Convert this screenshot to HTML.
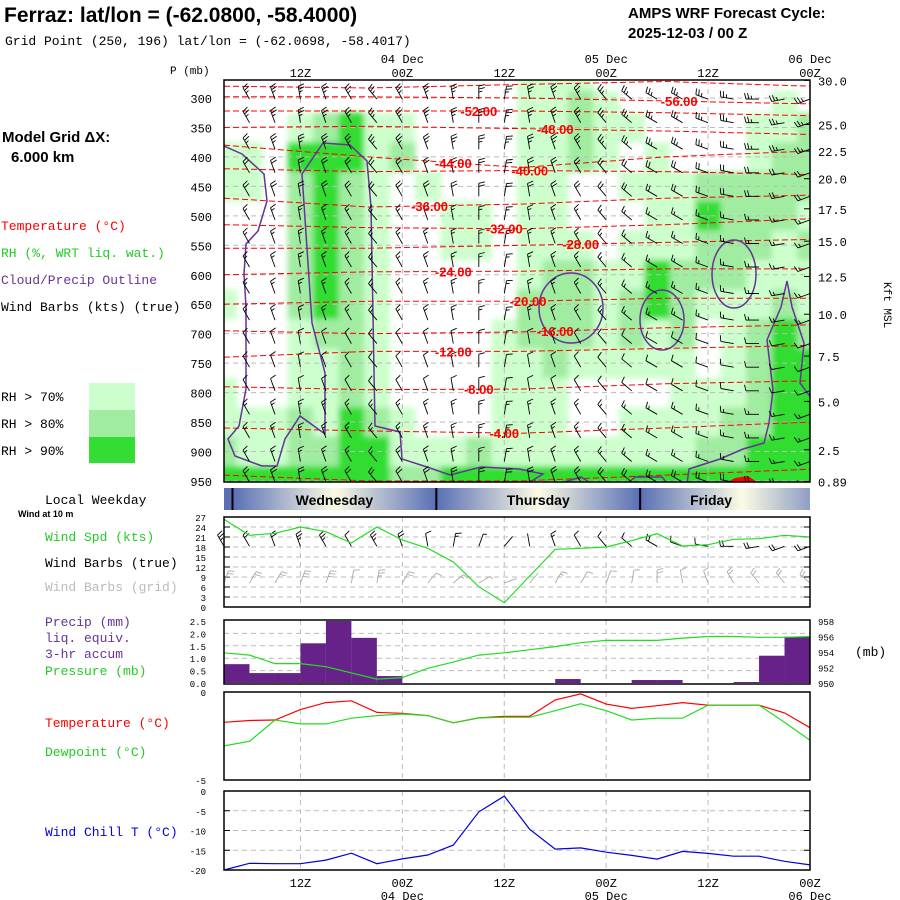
<!DOCTYPE html>
<html><head><meta charset="utf-8"><style>
body{margin:0;background:#fff;}
svg{display:block;}
text{font-family:"Liberation Mono","DejaVu Sans Mono",monospace;}
.ttl{font-family:"Liberation Sans",sans-serif;font-weight:bold;}
.sans{font-family:"Liberation Sans",sans-serif;font-weight:bold;}
</style></head><body>
<svg id="chart" width="900" height="900" viewBox="0 0 900 900" xmlns="http://www.w3.org/2000/svg">
<text class="ttl" x="4" y="22" font-size="21">Ferraz:  lat/lon = (-62.0800, -58.4000)</text>
<text x="5" y="45" font-size="13">Grid Point (250, 196) lat/lon = (-62.0698, -58.4017)</text>
<text class="ttl" x="628" y="18" font-size="15">AMPS WRF Forecast Cycle:</text>
<text class="ttl" x="628" y="38" font-size="15">2025-12-03 / 00  Z</text>
<text x="170" y="74" font-size="11">P (mb)</text>
<text class="ttl" x="2" y="142" font-size="15">Model Grid ΔX:</text>
<text class="ttl" x="11" y="162" font-size="15">6.000 km</text>
<text x="1" y="230" font-size="13" fill="#ff0000">Temperature (°C)</text>
<text x="1" y="257" font-size="13" fill="#22cc22">RH (%, WRT liq. wat.)</text>
<text x="1" y="284" font-size="13" fill="#663399">Cloud/Precip Outline</text>
<text x="1" y="311" font-size="13">Wind Barbs (kts) (true)</text>
<text x="1" y="401" font-size="13">RH &gt; 70%</text>
<text x="1" y="428" font-size="13">RH &gt; 80%</text>
<text x="1" y="455" font-size="13">RH &gt; 90%</text>
<rect x="89" y="383" width="46" height="27" fill="#ccffcc"/>
<rect x="89" y="410" width="46" height="27" fill="#a0eca0"/>
<rect x="89" y="437" width="46" height="26" fill="#33dd33"/>
<text transform="translate(884,282) rotate(90)" font-size="11">Kft MSL</text>
<text x="45" y="504" font-size="13">Local Weekday</text>
<text class="ttl" x="18" y="517" font-size="9">Wind at 10 m</text>
<text x="45" y="541" font-size="13" fill="#22cc22">Wind Spd (kts)</text>
<text x="45" y="567" font-size="13">Wind Barbs (true)</text>
<text x="45" y="591" font-size="13" fill="#bbbbbb">Wind Barbs (grid)</text>
<text x="45" y="626" font-size="13" fill="#663399">Precip (mm)</text>
<text x="45" y="642" font-size="13" fill="#663399">liq. equiv.</text>
<text x="45" y="658" font-size="13" fill="#663399">3-hr accum</text>
<text x="45" y="675" font-size="13" fill="#22cc22">Pressure (mb)</text>
<text x="855" y="656" font-size="13">(mb)</text>
<text x="45" y="727" font-size="13" fill="#ff0000">Temperature (°C)</text>
<text x="45" y="756" font-size="13" fill="#22cc22">Dewpoint (°C)</text>
<text x="45" y="836" font-size="13" fill="#0000ee">Wind Chill T (°C)</text>
<g id="g"></g>
</svg>
<script>
// ---------- data ----------
const times = [3,6,9,12,15,18,21,24,27,30,33,36,39,42,45,48,51,54,57,60,63,66,69,72];
const rhLevels = [275,300,350,400,450,500,550,600,650,700,750,800,850,900,950];
const rhRows = [
"000000000000111000000000",
"000000000000112100000010",
"000123110000112110000112",
"110333120000112101000122",
"110232101000110011122222",
"000232100110110001132221",
"000232100110111011122212",
"000232100000122113222111",
"100232100000222123211121",
"000122100001222121201232",
"000112100001121111101233",
"100112100001110000111233",
"111213210001110011112233",
"211223311121111111122333",
"333333322333333333333333"];
const isoVals = [-60,-56,-52,-48,-44,-40,-36,-32,-28,-24,-20,-16,-12,-8,-4,0];
const isoTimes = [3,20,38,55,72];
const isoP = [
[280,283,277,272,280],[298,298,300,305,310],[322,322,322,325,330],[350,348,352,356,362],
[380,400,418,400,390],[420,425,423,425,430],[470,485,480,470,465],[515,520,522,515,505],
[555,555,550,545,540],[600,595,594,590,590],[650,645,645,640,640],[695,700,697,690,685],
[740,730,730,725,720],[790,795,794,785,780],[860,865,869,860,850],[940,950,950,940,930]];
const isoLabelVals = [-56,-52,-48,-44,-40,-36,-32,-28,-24,-20,-16,-12,-8,-4];
const isoLabelTimes = [56.6,33,42,30,39,27.2,36,45,30,38.8,42,30,33,36];
const barbLevels = [290,330,375,415,455,495,535,575,620,665,705,745,785,825,865,905,940];
const barbDir = [330,330,340,350,340,330,320,330,340,350,0,10,350,340,330,320,310,300,300,290,280,270,260,250];
const barbSpdRow = [25,25,25,20,20,15,15,15,15,15,10,10,10,15,15,15,20];
const windSpd = [26.3,21.5,22.1,24,22.6,19.2,24,20.1,17.6,13.5,6.1,1.3,9.3,17.3,17.6,18,19.9,22,18.3,18.7,20.3,20.5,21.5,21];
const windDir10 = [330,330,340,340,330,330,330,340,350,10,20,40,350,340,330,320,310,300,290,280,270,260,250,250];
const gridDir10 = [20,30,30,20,20,10,10,30,40,50,60,70,40,30,30,20,10,0,350,340,330,320,320,310];
const precip = [0.76,0.4,0.4,1.6,2.5,1.82,0.28,0,0,0,0,0,0,0.16,0,0,0.12,0.12,0,0,0.04,1.1,1.87];
const pres = [953.9,953.6,952.5,952.5,952.1,951.3,950.5,950.7,951.9,952.7,953.6,953.9,954.3,954.7,955.2,955.5,955.5,955.5,955.8,956,956,955.9,955.9,956];
const temp = [-1.72,-1.62,-1.59,-1.0,-0.6,-0.5,-1.16,-1.21,-1.34,-1.75,-1.47,-1.38,-1.38,-0.45,-0.11,-0.69,-0.93,-0.78,-0.6,-0.75,-0.75,-0.75,-1.19,-2.03];
const dewp = [-3.06,-2.8,-1.59,-1.81,-1.81,-1.49,-1.34,-1.25,-1.34,-1.75,-1.47,-1.44,-1.44,-1.06,-0.67,-1.06,-1.59,-1.49,-1.49,-0.75,-0.75,-0.75,-1.72,-2.74];
const windChill = [-20,-18.3,-18.4,-18.4,-17.5,-15.75,-18.4,-17.2,-16.2,-13.7,-5.3,-1.3,-9.7,-14.7,-14.4,-15.5,-16.3,-17.25,-15.3,-15.8,-16.5,-16.5,-17.8,-18.7];
const pTicks = [300,350,400,450,500,550,600,650,700,750,800,850,900,950];
const kftTicks = ["30.0","25.0","22.5","20.0","17.5","15.0","12.5","10.0","7.5","5.0","2.5","0.89"];
const kftTickP = [270,345,390,437,488,543,603,667,738,815,897,951];
const timeTicks = [12,24,36,48,60,72];
const timeTickLabels = ["12Z","00Z","12Z","00Z","12Z","00Z"];
const dateTickLabels = ["","04 Dec","","05 Dec","","06 Dec"];
const dayBounds = [4,28,52,76];
const dayNames = ["Wednesday","Thursday","Friday"];

// ---------- scales ----------
const L=224,R=810;
const X=t=>L+(t-3)*(R-L)/69;
const P=p=>98+(p-300)*0.5892;
const NS='http://www.w3.org/2000/svg';
const root=document.getElementById('g');
function mk(tag,attrs,parent){const e=document.createElementNS(NS,tag);for(const k in attrs)e.setAttribute(k,attrs[k]);(parent||root).appendChild(e);return e;}
function txt(s,x,y,attrs,parent){const e=mk('text',Object.assign({x:x,y:y},attrs),parent);e.textContent=s;return e;}
function interp(xs,ys,x){for(let i=0;i<xs.length-1;i++){if(x<=xs[i+1]){const f=(x-xs[i])/(xs[i+1]-xs[i]);return ys[i]+f*(ys[i+1]-ys[i]);}}return ys[ys.length-1];}

// ---------- main panel ----------
const defs=mk('defs',{});
const cp=mk('clipPath',{id:'mainclip'},defs);
mk('rect',{x:L,y:80,width:R-L,height:402},cp);
const flt=mk('filter',{id:'soft',x:'-5%',y:'-5%',width:'110%',height:'110%'},defs);
mk('feGaussianBlur',{stdDeviation:'3'},flt);
const main=mk('g',{'clip-path':'url(#mainclip)'});


const rhG=mk('g',{filter:'url(#soft)'},main);
const rhCol=['none','#ccffcc','#a0eca0','#33dd33'];
const cw=(X(6)-X(3));
rhLevels.forEach((p,ri)=>{
  const vals=rhRows[ri].split('').map(Number);
  const yTop = ri===0?70:(P(rhLevels[ri-1])+P(p))/2;
  const yBot = ri===rhLevels.length-1?492:(P(p)+P(rhLevels[ri+1]))/2;
  vals.forEach((v,ci)=>{
    if(!v)return;
    const x0=ci===0?L-10:X(times[ci])-cw/2;
    const x1=ci===times.length-1?R+10:X(times[ci])+cw/2;
    const r=mk('rect',{x:x0,y:yTop,width:x1-x0+0.5,height:yBot-yTop+0.5,fill:rhCol[v]},rhG);
    
    
  });
});
pTicks.forEach(p=>{mk('line',{x1:L,x2:R,y1:P(p),y2:P(p),stroke:'#bbbbbb','stroke-dasharray':'5,4','stroke-width':1},main);});
timeTicks.slice(0,5).forEach(t=>{mk('line',{x1:X(t),x2:X(t),y1:80,y2:482,stroke:'#bbbbbb','stroke-dasharray':'5,4'},main);});
isoVals.forEach((v,i)=>{
  let d='';
  for(let t=3;t<=72;t+=1){d+=(t===3?'M':'L')+X(t).toFixed(1)+','+P(interp(isoTimes,isoP[i],t)).toFixed(1);}
  const pl=mk('path',{d:d,fill:'none',stroke:'#ff0000','stroke-width':1,'stroke-dasharray':'6,3'},main);
  
  
});
const outlines=[
"M224,146 L242,154 L264,174 L267,201 L258,231 L246,244 L244,274 L246,307 L246,389 L239,426 L228,439 L235,456 L262,466 L277,466 L285,439 L300,416 L325,434 L325,373 L312,323 L302,174 L323,143 L350,145 L367,161 L371,207 L375,426 L400,432 L402,459 L427,467 L450,475 L481,467 L519,469 L543,474 L527,484",
"M558,484 L581,477 L592,484",
"M627,484 L635,477 L662,477 L668,484",
"M687,484 L689,469 L720,459 L743,449 L764,443 L769,423 L773,390 L767,340 L781,307 L787,281 L792,307 L804,343 L800,383 L812,399"];
outlines.forEach(d=>{const o=mk('path',{d:d,fill:'none',stroke:'#663399','stroke-width':1.5},main);
  });
[[571,308,32,35],[662,320,22,30],[734,274,22,34]].forEach(c=>{const o=mk('ellipse',{cx:c[0],cy:c[1],rx:c[2],ry:c[3],fill:'none',stroke:'#663399','stroke-width':1.5},main);
  });
mk('path',{d:'M724,484 L735,478 L748,476 L760,484 Z',fill:'#ff0000'},main);
function barb(x,y,dir,spd,color,len,parent){
  const a=(dir)*Math.PI/180;
  const dx=Math.sin(a),dy=-Math.cos(a);
  const x2=x+dx*len,y2=y+dy*len;
  let d='M'+x.toFixed(1)+','+y.toFixed(1)+'L'+x2.toFixed(1)+','+y2.toFixed(1);
  const px=-dy,py=dx;
  let n=Math.floor(spd/10),half=(Math.round(spd/5)%2===1);
  let pos=0;
  for(let i=0;i<n;i++){const bx=x2-dx*pos,by=y2-dy*pos;d+='M'+bx.toFixed(1)+','+by.toFixed(1)+'L'+(bx+px*6+dx*1.5).toFixed(1)+','+(by+py*6+dy*1.5).toFixed(1);pos+=3;}
  if(half){const bx=x2-dx*pos,by=y2-dy*pos;d+='M'+bx.toFixed(1)+','+by.toFixed(1)+'L'+(bx+px*3.5+dx*1).toFixed(1)+','+(by+py*3.5+dy*1).toFixed(1);}
  const b=mk('path',{d:d,fill:'none',stroke:color,'stroke-width':0.9},parent);
  
  
}
barbLevels.forEach((p,ri)=>{times.forEach((t,ci)=>{barb(X(t),P(p)+7,barbDir[ci],barbSpdRow[ri],'#000',13,main);});});
isoLabelVals.forEach((v,i)=>{
  const k=isoVals.indexOf(v);const t=isoLabelTimes[i];
  const lb=txt(v.toFixed(2),X(t),P(interp(isoTimes,isoP[k],t))+5,{'font-size':13,fill:'#ff0000','text-anchor':'middle','class':'sans'},main);
  
  
});
mk('rect',{x:L,y:80,width:R-L,height:402,fill:'none',stroke:'#000','stroke-width':1.5});
pTicks.forEach(p=>{const e=txt(String(p),212,P(p)+5,{'font-size':12,'text-anchor':'end'});
  });
kftTicks.forEach((s,i)=>{const e=txt(s,818,P(kftTickP[i])+5,{'font-size':12});
  
  mk('line',{x1:R,x2:R-6,y1:P(kftTickP[i]),y2:P(kftTickP[i]),stroke:'#000'});});
timeTicks.forEach((t,i)=>{
  const e=txt(timeTickLabels[i],X(t),77,{'font-size':12,'text-anchor':'middle'});
  
  if(dateTickLabels[i]){const d=txt(dateTickLabels[i],X(t),63,{'font-size':12,'text-anchor':'middle'});
    }
  const b=txt(timeTickLabels[i],X(t),887,{'font-size':12,'text-anchor':'middle'});
  
  if(dateTickLabels[i]){const d=txt(dateTickLabels[i],X(t),900,{'font-size':12,'text-anchor':'middle'});
    }
});

// ---------- weekday bar ----------
mk('rect',{x:L,y:488,width:R-L,height:22,fill:'#5a6fb5'});
dayBounds.slice(0,3).forEach((t0,i)=>{
  const t1=dayBounds[i+1];
  const gid='dg'+i;
  const lg=mk('linearGradient',{id:gid,x1:X(t0),x2:X(t1),y1:0,y2:0,gradientUnits:'userSpaceOnUse'},defs);
  mk('stop',{offset:'0',  'stop-color':'#5a6fb5'},lg);
  mk('stop',{offset:'0.5','stop-color':'#fbfbe4'},lg);
  mk('stop',{offset:'1',  'stop-color':'#5a6fb5'},lg);
  const x0=X(t0),x1=Math.min(X(t1),R);
  const r=mk('rect',{x:x0,y:488,width:x1-x0,height:22,fill:'url(#'+gid+')'});
  
  mk('line',{x1:x0,x2:x0,y1:488,y2:510,stroke:'#000','stroke-width':2});
  const tx=txt(dayNames[i],(x0+Math.min(X(t1),R))/2+ (i===2?-14:0),505,{'font-size':14,'text-anchor':'middle','class':'sans'});
  
});

// ---------- lower panels ----------
function panel(name,y0,y1){
  const g=mk('g',{});
  timeTicks.slice(0,5).forEach(t=>mk('line',{x1:X(t),x2:X(t),y1:y0,y2:y1,stroke:'#bbbbbb','stroke-dasharray':'5,4'},g));
  return g;
}
function hgrid(g,y){mk('line',{x1:L,x2:R,y1:y,y2:y,stroke:'#bbbbbb','stroke-dasharray':'5,4'},g);}
function line(g,vals,ys,color,name){
  const d=vals.map((v,i)=>(i?'L':'M')+X(times[i]).toFixed(1)+','+ys(v).toFixed(1)).join('');
  const p=mk('path',{d:d,fill:'none',stroke:color,'stroke-width':1.2},g);
  
}
function border(y0,y1){mk('rect',{x:L,y:y0,width:R-L,height:y1-y0,fill:'none',stroke:'#000','stroke-width':1.5});}
const W=v=>607-v*90/27;
const gw=panel('wind-speed-panel',517,607);
for(let v=3;v<27;v+=3){hgrid(gw,W(v));mk('line',{x1:L,x2:L+6,y1:W(v),y2:W(v),stroke:'#000'},gw);mk('line',{x1:R,x2:R-6,y1:W(v),y2:W(v),stroke:'#000'},gw);}
for(let v=0;v<=27;v+=3){const e=txt(String(v),206,W(v)+4,{'font-size':9,'text-anchor':'end'},gw);}
times.forEach((t,i)=>barb(X(t),W(9)+6,gridDir10[i],windSpd[i],'#aaaaaa',13,gw));
times.forEach((t,i)=>barb(X(t),W(20)+6,windDir10[i],windSpd[i],'#000',13,gw));
line(gw,windSpd,W,'#22dd22','wind-speed-line');
border(517,607);
const PR=v=>683-v*62/2.5, PS=v=>683-(v-950)*62/8;
const gp=panel('precip-pressure-panel',620,684);
[0.5,1,1.5,2].forEach(v=>hgrid(gp,PR(v)));
precip.forEach((v,i)=>{if(!v)return;const b=mk('rect',{x:X(times[i]),y:PR(v),width:X(times[i+1])-X(times[i]),height:683-PR(v),fill:'#662288'},gp);
  });
line(gp,pres,PS,'#22dd22','pressure-line');
["0.0","0.5","1.0","1.5","2.0","2.5"].forEach((s,i)=>{const e=txt(s,206,PR(i*0.5)+4,{'font-size':9,'text-anchor':'end'},gp);});
[950,952,954,956,958].forEach(v=>{const e=txt(String(v),818,PS(v)+4,{'font-size':9},gp);});
border(620,684);
const T=v=>692+(-v)*88/5;
const gt=panel('temperature-panel',692,780);
line(gt,temp,T,'#ff0000','temperature-line');
line(gt,dewp,T,'#22dd22','dewpoint-line');
txt('0',206,696,{'font-size':9,'text-anchor':'end'},gt);
txt('-5',206,784,{'font-size':9,'text-anchor':'end'},gt);
border(692,780);
const C=v=>791+(-v)*79/20;
const gc=panel('wind-chill-panel',791,870);
[-5,-10,-15].forEach(v=>{hgrid(gc,C(v));mk('line',{x1:L,x2:L+6,y1:C(v),y2:C(v),stroke:'#000'},gc);mk('line',{x1:R,x2:R-6,y1:C(v),y2:C(v),stroke:'#000'},gc);});
[0,-5,-10,-15,-20].forEach(v=>{const e=txt(String(v),206,C(v)+4,{'font-size':9,'text-anchor':'end'},gc);});
line(gc,windChill,C,'#0000dd','wind-chill-line');
border(791,870);
</script>
</body></html>
